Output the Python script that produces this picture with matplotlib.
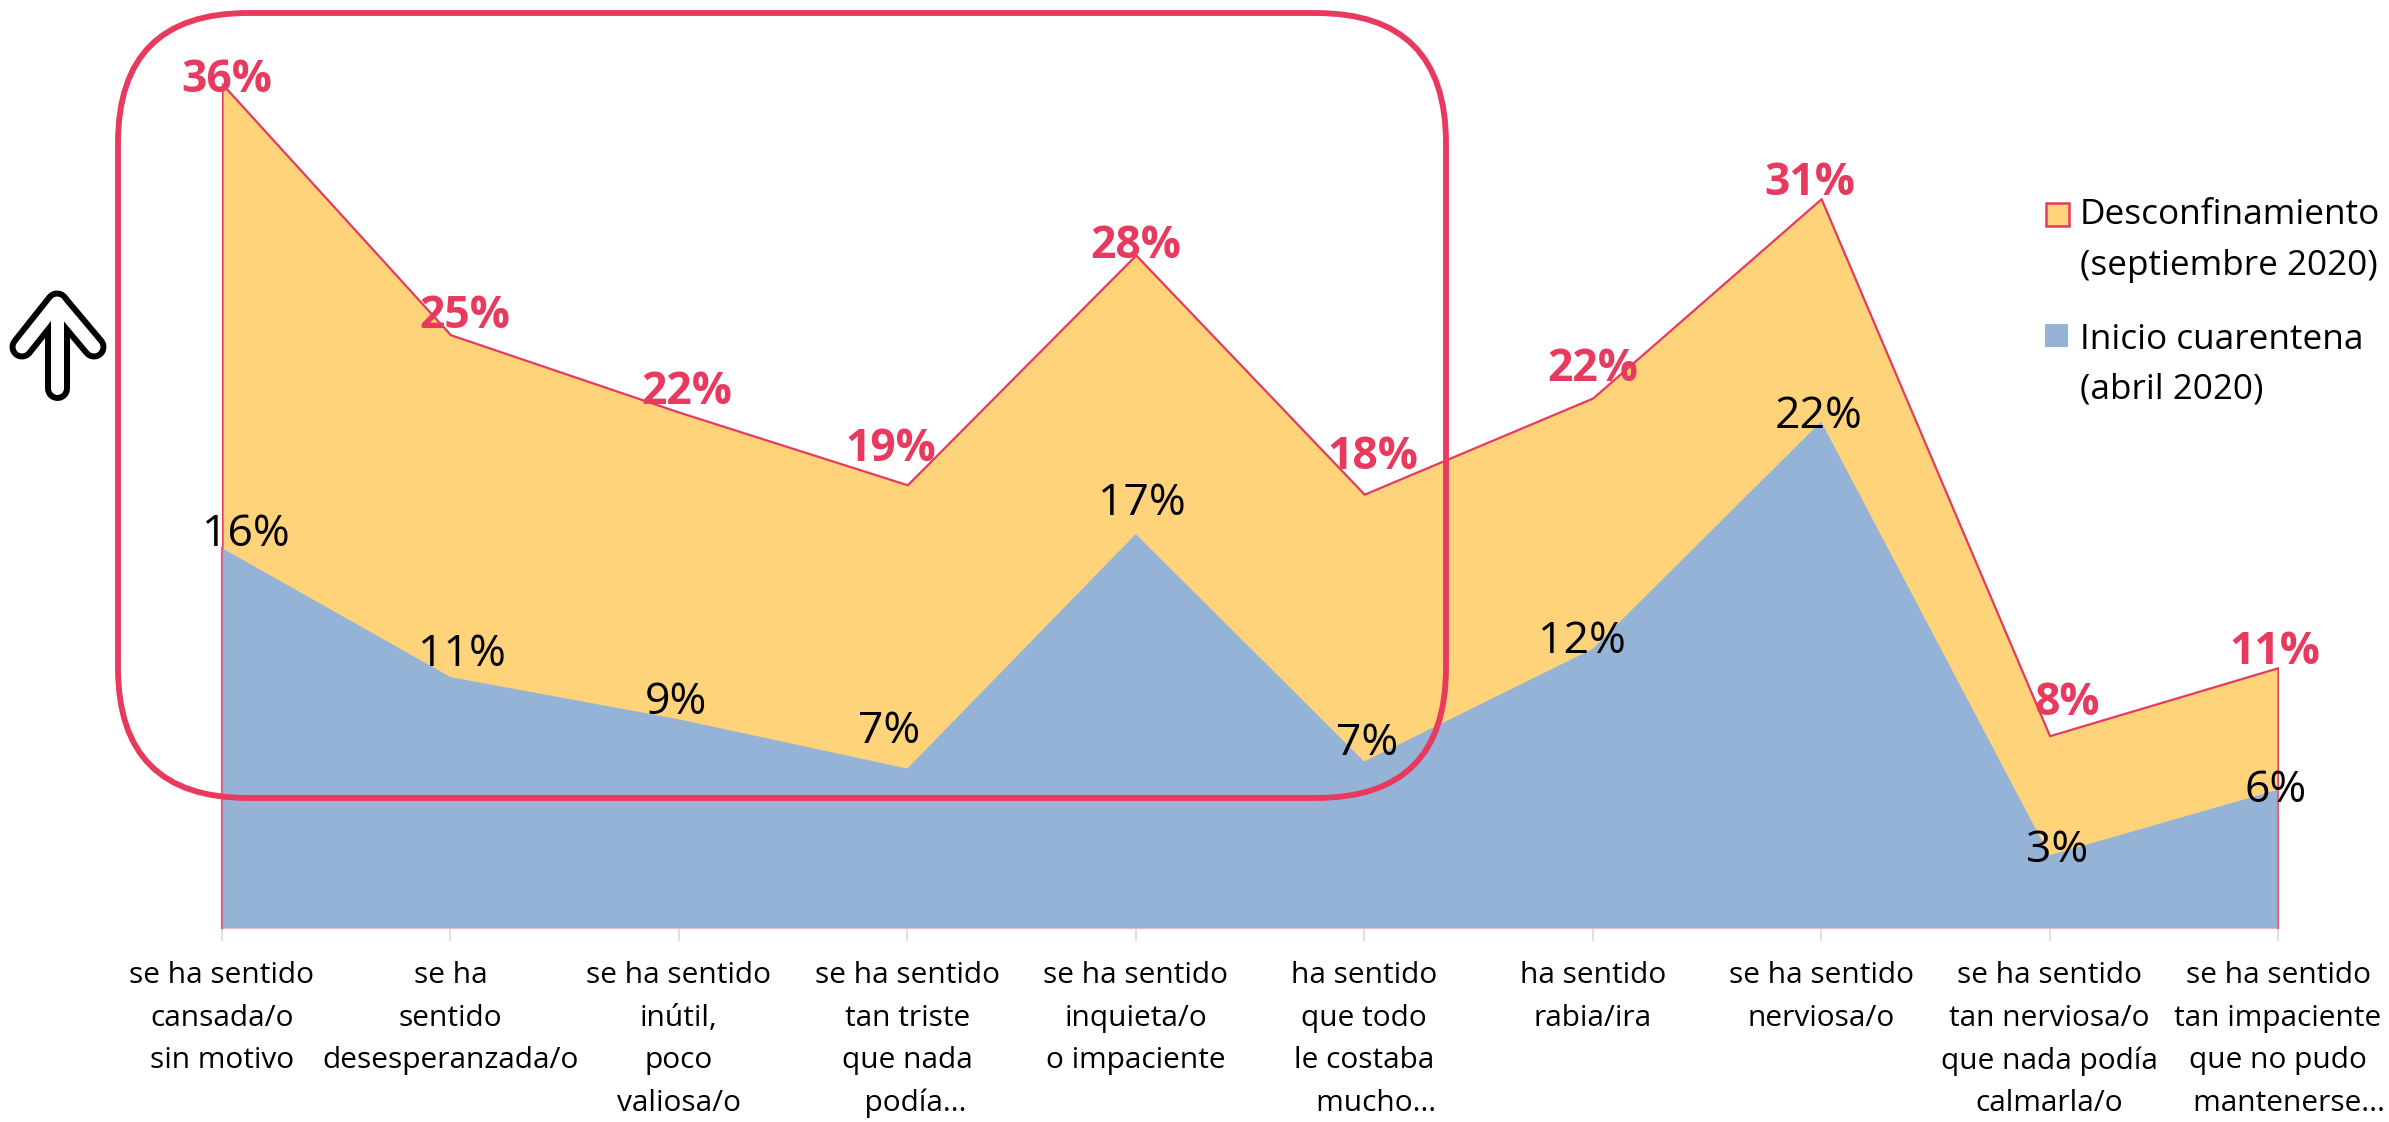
import matplotlib
matplotlib.use("Agg")
import matplotlib.pyplot as plt
from matplotlib.patches import FancyBboxPatch, Rectangle
import numpy as np

plt.rcParams['font.family'] = ['Open Sans', 'DejaVu Sans']

W, H = 2389, 1122

categories = [
    "se ha sentido\ncansada/o\nsin motivo",
    "se ha\nsentido\ndesesperanzada/o",
    "se ha sentido\ninútil,\npoco\nvaliosa/o",
    "se ha sentido\ntan triste\nque nada\n  podía...",
    "se ha sentido\ninquieta/o\no impaciente",
    "ha sentido\nque todo\nle costaba\n   mucho...",
    "ha sentido\nrabia/ira",
    "se ha sentido\nnerviosa/o",
    "se ha sentido\ntan nerviosa/o\nque nada podía\ncalmarla/o",
    "se ha sentido\ntan impaciente\nque no pudo\n   mantenerse...",
]
desconf = [36.0, 25.3, 22.0, 18.9, 28.7, 18.5, 22.6, 31.1, 8.2, 11.1]
inicio = [16.2, 10.7, 8.9, 6.8, 16.8, 7.1, 11.9, 21.6, 3.1, 5.9]
desconf_labels = ["36%", "25%", "22%", "19%", "28%", "18%", "22%", "31%", "8%", "11%"]
inicio_labels = ["16%", "11%", "9%", "7%", "17%", "7%", "12%", "22%", "3%", "6%"]

RED = "#E8395E"
ORANGE = "#FED37A"
BLUE = "#95B3D7"

# label shifts from the point, in pixels
desconf_dx = [5, 14, 8, -17, 0, 9, 0, -11, 18, -3]
desconf_dy = [3, 18, 20, 35, 8, 37, 29, 15, 32, 15]
inicio_dx = [24, 11, -3, -18, 6, 3, -11, -2, 8, -2]
inicio_dy = [13, 22, 17, 37, 30, 18, 7, 5, 5, -1]

fig = plt.figure(figsize=(W / 100, H / 100), dpi=100)

# axes box: x 222-2278 px, baseline at y=928 px
ax = fig.add_axes([222 / W, 1 - 928 / H, (2278 - 222) / W, (928 - 40) / H])
x = np.arange(len(categories))
ax.fill_between(x, 0, desconf, facecolor=ORANGE, edgecolor=RED, linewidth=1.6, zorder=2)
ax.fill_between(x, 0, inicio, facecolor=BLUE, edgecolor="none", zorder=3)
# the outline of the back area still shows at both ends of the blue one
ax.plot([x[0], x[0]], [0, inicio[0]], color="#D9628A", lw=1.6, zorder=4, clip_on=False)
ax.plot([x[-1], x[-1]], [0, inicio[-1]], color="#E8637F", lw=1.6, zorder=4, clip_on=False)
ax.set_xlim(0, len(categories) - 1)
ax.set_ylim(0, 888 / 23.45)

for s in ["top", "left", "right"]:
    ax.spines[s].set_visible(False)
ax.spines["bottom"].set_color("#E3B9C2")
ax.spines["bottom"].set_linewidth(1.5)
ax.set_yticks([])
ax.set_xticks(x)
ax.set_xticklabels(categories, fontsize=21.5, linespacing=1.61, color="black")
ax.tick_params(axis="x", length=9, width=1.2, color="#D9D9D9", pad=15)

for i in x:
    ax.annotate(desconf_labels[i], (i, desconf[i]), xytext=(desconf_dx[i], desconf_dy[i]),
                textcoords="offset pixels", ha="center", va="center", color=RED,
                fontsize=32, fontweight="bold", zorder=5, annotation_clip=False)
    ax.annotate(inicio_labels[i], (i, inicio[i]), xytext=(inicio_dx[i], inicio_dy[i]),
                textcoords="offset pixels", ha="center", va="center", color="black",
                fontsize=32, zorder=5, annotation_clip=False)

# overlay in image pixels for the frame, arrow and legend
over = fig.add_axes([0, 0, 1, 1], zorder=10)
over.set_xlim(0, W)
over.set_ylim(H, 0)
over.axis("off")

over.add_patch(FancyBboxPatch((118 + 130, 13 + 130), 1446 - 118 - 260, 798 - 13 - 260,
                              boxstyle="round,pad=130,rounding_size=130",
                              facecolor="none", edgecolor=RED, linewidth=4.2))

for col, w in [("black", 25 * 0.72), ("white", 13 * 0.72)]:
    over.plot([22, 57, 94], [347, 303, 347], color=col, lw=w, solid_capstyle="round",
              solid_joinstyle="round")
    over.plot([57, 57], [303, 388], color=col, lw=w, solid_capstyle="round")

over.add_patch(Rectangle((2046, 203), 23, 23, facecolor=ORANGE, edgecolor=RED, linewidth=1.8))
over.add_patch(Rectangle((2045, 324), 23, 23, facecolor=BLUE, edgecolor="none"))
over.text(2080, 215, "Desconfinamiento", fontsize=25.3, va="center", ha="left")
over.text(2080, 266, "(septiembre 2020)", fontsize=25.3, va="center", ha="left")
over.text(2080, 340, "Inicio cuarentena", fontsize=25.3, va="center", ha="left")
over.text(2080, 389, "(abril 2020)", fontsize=25.3, va="center", ha="left")

fig.savefig("out.png", dpi=100)
